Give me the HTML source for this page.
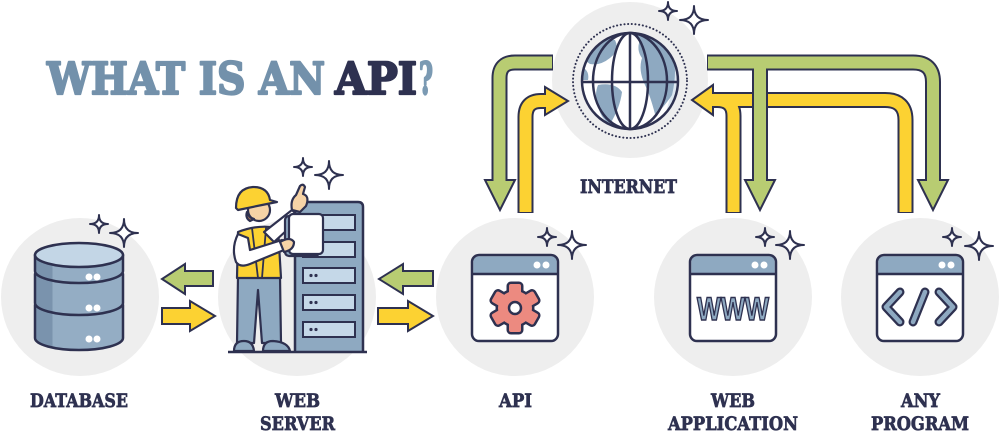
<!DOCTYPE html>
<html><head><meta charset="utf-8"><style>
html,body{margin:0;padding:0;background:#fff;}
svg{display:block;}
.lbl{font-family:"DejaVu Serif","Liberation Serif",serif;font-weight:bold;font-size:19px;fill:#2e3150;stroke:#2e3150;stroke-width:0.7px;}
</style></head><body>
<svg width="1000" height="432" viewBox="0 0 1000 432" xmlns="http://www.w3.org/2000/svg">
<defs>
<linearGradient id="dbg" x1="0" x2="1" y1="0" y2="0">
<stop offset="0" stop-color="#7a93ad"/><stop offset="0.2" stop-color="#7a93ad"/>
<stop offset="0.2" stop-color="#94adc4"/><stop offset="1" stop-color="#94adc4"/>
</linearGradient>
<clipPath id="gc"><circle cx="630" cy="81" r="48"/></clipPath>
</defs>

<!-- background circles -->
<g fill="#eeeeee">
<circle cx="80" cy="297" r="79"/>
<circle cx="297" cy="297" r="79"/>
<circle cx="515" cy="297" r="79"/>
<circle cx="733" cy="297" r="79"/>
<circle cx="920" cy="297" r="79"/>
<circle cx="630" cy="80" r="78"/>
</g>

<!-- title -->
<g font-family="'DejaVu Serif','Liberation Serif',serif" font-weight="bold" font-size="44" stroke-width="2.2" stroke-linejoin="round">
<text x="47" y="94" fill="#7391ab" stroke="#7391ab" textLength="278" lengthAdjust="spacingAndGlyphs">WHAT IS AN</text>
<text x="335" y="94" fill="#2e3150" stroke="#2e3150" textLength="82" lengthAdjust="spacingAndGlyphs">API</text>
<text x="419" y="94" fill="#7b9ab3" stroke="#7b9ab3" textLength="14" lengthAdjust="spacingAndGlyphs">?</text>
</g>

<!-- globe -->
<circle cx="630" cy="81" r="57" fill="none" stroke="#2e3150" stroke-width="2" stroke-dasharray="0.1 3.6" stroke-linecap="round"/>
<circle cx="630" cy="81" r="48" fill="#fff"/>
<g clip-path="url(#gc)">
<path d="M662,40 Q685,60 680,100 Q672,118 660,125 Q676,95 670,60Z" fill="#dde7f0"/>
<path d="M585,45 Q600,36 615,40 Q620,50 610,58 Q600,66 590,64 Q580,58 585,45Z" fill="#8ea9c1"/>
<path d="M580,66 Q590,70 588,80 L578,80Z" fill="#8ea9c1"/>
<path d="M598,85 Q615,82 622,92 Q620,108 610,124 Q600,118 598,105 Q594,95 598,85Z" fill="#8ea9c1"/>
<path d="M640,40 Q660,34 672,50 Q678,70 672,95 Q662,110 655,114 Q650,95 645,85 Q638,70 642,58 Q636,50 640,40Z" fill="#8ea9c1"/>
<path d="M635,34 Q648,30 655,36 L640,42Z" fill="#8ea9c1"/>
</g>
<g fill="none" stroke="#2e3150" stroke-width="2.5">
<circle cx="630" cy="81" r="48"/>
<ellipse cx="630" cy="81" rx="37" ry="48"/>
<ellipse cx="630" cy="81" rx="18" ry="48"/>
<line x1="630" y1="33" x2="630" y2="129"/>
<line x1="582" y1="82" x2="678" y2="82"/>
</g>
<text class="lbl" x="580" y="193" textLength="97" lengthAdjust="spacingAndGlyphs">INTERNET</text>

<!-- big connector arrows: yellow first -->
<g fill="none" stroke-linecap="butt" stroke-linejoin="round">
<path d="M525.5,213 V117 Q525.5,101 541,101 H547" stroke="#2e3150" stroke-width="16"/>
<path d="M905.5,213 V120 Q905.5,100 885,100 H711" stroke="#2e3150" stroke-width="16"/>
<path d="M733.5,213 V116 Q733.5,100 717,100 H711" stroke="#2e3150" stroke-width="16"/>
</g>
<g fill="#fcd232" stroke="#2e3150" stroke-width="2" stroke-linejoin="miter">
<polygon points="545,87 568,101 545,115"/>
<polygon points="713,85 692,100 713,115"/>
</g>
<g fill="none" stroke="#fcd232" stroke-width="12" stroke-linecap="butt">
<path d="M525.5,212 V117 Q525.5,101 541,101 H546.5"/>
<path d="M905.5,212 V120 Q905.5,100 885,100 H712"/>
<path d="M733.5,212 V116 Q733.5,100 717,100 H712"/>
</g>
<!-- green -->
<g fill="none" stroke="#2e3150" stroke-width="16" stroke-linecap="butt">
<path d="M553,62.5 H515 Q499.5,62.5 499.5,78 V182"/>
<path d="M707,62.5 H913 Q933,62.5 933,82 V182"/>
<path d="M760,62.5 V182"/>
</g>
<g fill="#b8cc72" stroke="#2e3150" stroke-width="2">
<polygon points="485,180 515,180 500,210"/>
<polygon points="918,180 948,180 933,210"/>
<polygon points="745,180 775,180 760,210"/>
</g>
<g fill="none" stroke="#b8cc72" stroke-width="12" stroke-linecap="butt">
<path d="M552,62.5 H515 Q499.5,62.5 499.5,78 V181.5"/>
<path d="M708,62.5 H913 Q933,62.5 933,82 V181.5"/>
<path d="M760,62.5 V181.5"/>
</g>

<!-- small horizontal arrows -->
<g stroke="#2e3150" stroke-width="2" stroke-linejoin="miter">
<polygon fill="#b8cc72" points="213,271 185,271 185,264 162,279 185,294 185,286 213,286"/>
<polygon fill="#fcd232" points="162,308 190,308 190,301 215,316 190,331 190,324 162,324"/>
<polygon fill="#b8cc72" points="433,271 403,271 403,264 379,279 403,294 403,286 433,286"/>
<polygon fill="#fcd232" points="378,308 408,308 408,301 433,316 408,331 408,324 378,324"/>
</g>

<!-- sparkles -->
<g fill="#fff" stroke="#2e3150" stroke-width="2" stroke-linejoin="round">
<path d="M99,215 Q99,224 108,224 Q99,224 99,233 Q99,224 90,224 Q99,224 99,215Z"/>
<path d="M124,219 Q124,233 138,233 Q124,233 124,247 Q124,233 110,233 Q124,233 124,219Z"/>
<path d="M303,158 Q303,167 312,167 Q303,167 303,176 Q303,167 294,167 Q303,167 303,158Z"/>
<path d="M329,161 Q329,175 343,175 Q329,175 329,189 Q329,175 315,175 Q329,175 329,161Z"/>
<path d="M547,228 Q547,237 556,237 Q547,237 547,246 Q547,237 538,237 Q547,237 547,228Z"/>
<path d="M572,231 Q572,245 586,245 Q572,245 572,259 Q572,245 558,245 Q572,245 572,231Z"/>
<path d="M765,228 Q765,237 774,237 Q765,237 765,246 Q765,237 756,237 Q765,237 765,228Z"/>
<path d="M790,231 Q790,245 804,245 Q790,245 790,259 Q790,245 776,245 Q790,245 790,231Z"/>
<path d="M952,228 Q952,237 961,237 Q952,237 952,246 Q952,237 943,237 Q952,237 952,228Z"/>
<path d="M979,232 Q979,246 993,246 Q979,246 979,260 Q979,246 965,246 Q979,246 979,232Z"/>
<path d="M668,2 Q668,11 677,11 Q668,11 668,20 Q668,11 659,11 Q668,11 668,2Z"/>
<path d="M694,6 Q694,20 708,20 Q694,20 694,34 Q694,20 680,20 Q694,20 694,6Z"/>
</g>

<!-- database -->
<g stroke="#2e3150" stroke-width="2.5" stroke-linejoin="round">
<path d="M35,305 V338 A44,12 0 0 0 123,338 V305 Z" fill="url(#dbg)"/>
<path d="M35,274 V303 A44,12 0 0 0 123,303 V274 Z" fill="url(#dbg)"/>
<path d="M35,255 V271 A44,12 0 0 0 123,271 V255 Z" fill="url(#dbg)"/>
<ellipse cx="79" cy="255" rx="44" ry="12" fill="#c3d6e6"/>
</g>
<g fill="#fff">
<circle cx="89" cy="277" r="3.5"/><circle cx="97" cy="277" r="3.5"/>
<circle cx="89" cy="308" r="3.5"/><circle cx="97" cy="308" r="3.5"/>
<circle cx="89" cy="339" r="3.5"/><circle cx="97" cy="339" r="3.5"/>
</g>

<!-- web server rack -->
<g stroke="#2e3150" stroke-width="2.5">
<path d="M295,352 V207 Q295,202 300,202 H358 Q363,202 363,207 V352" fill="#8ea9c1"/>
<g fill="#c5d8e8" stroke-width="2">
<rect x="303" y="215" width="52" height="15"/>
<rect x="303" y="242" width="52" height="15"/>
<rect x="303" y="268" width="52" height="15"/>
<rect x="303" y="295" width="52" height="15"/>
<rect x="303" y="322" width="52" height="15"/>
</g>
</g>
<g fill="#2e3150">
<circle cx="311" cy="275.5" r="1.6"/><circle cx="316" cy="275.5" r="1.6"/>
<circle cx="311" cy="302.5" r="1.6"/><circle cx="316" cy="302.5" r="1.6"/>
<circle cx="311" cy="329.5" r="1.6"/><circle cx="316" cy="329.5" r="1.6"/>
</g>
<line x1="228" y1="352" x2="367" y2="352" stroke="#2e3150" stroke-width="2.5"/>

<!-- worker -->
<g stroke="#2e3150" stroke-width="2.2" stroke-linejoin="round" stroke-linecap="round">
<path d="M238,276 L237,343 L254,343 L258,290 L262,343 L281,343 L280,276Z" fill="#8ea9c1"/>
<path d="M234,351 Q234,341 244,341 Q253,341 254,351Z" fill="#8ea9c1"/>
<path d="M263,351 Q263,341 273,341 Q288,342 290,351Z" fill="#8ea9c1"/>
<path d="M238,232 Q258,224 278,228 L281,278 L237,278Z" fill="#fcd232"/>
<path d="M252,228 L258,278 M266,228 L262,278" fill="none" stroke-width="1.8"/>
<path d="M264,232 L292,210 L300,218 L274,242Z" fill="#fff"/>
<path d="M292,210 Q290,200 296,195 L300,186 Q303,183 305,187 L303,194 Q310,196 306,206 L300,212Z" fill="#f6d3a6"/>
<path d="M238,234 Q231,248 236,262 Q240,268 250,264 L284,250 L282,240 L250,250 L248,238Z" fill="#fff"/>
<circle cx="259" cy="210" r="11" fill="#f6d3a6"/>
<path d="M247,212 Q249,218 254,219 L250,221 Q245,218 247,212Z" fill="#a0725a"/>
<path d="M236,208 Q236,188 253,187 Q268,187 270,200 L277,202 L262,205 L238,210Z" fill="#fcd232"/>
<rect x="285" y="216" width="34" height="40" rx="4" fill="#8ea9c1"/>
<rect x="289" y="214" width="34" height="40" rx="4" fill="#fff"/>
<path d="M280,242 Q290,236 294,242 Q294,250 284,252Z" fill="#f6d3a6"/>
</g>

<!-- windows -->
<g>
<rect x="472" y="255" width="86" height="86" rx="7" fill="#fff"/>
<path d="M473.25,274 V262 Q473.25,256.25 479,256.25 H551 Q556.75,256.25 556.75,262 V274Z" fill="#8ea9c1"/>
<line x1="472" y1="274" x2="558" y2="274" stroke="#2e3150" stroke-width="2.5"/>
<rect x="472" y="255" width="86" height="86" rx="7" fill="none" stroke="#2e3150" stroke-width="2.5"/>
<circle cx="537" cy="265" r="3.5" fill="#fff"/><circle cx="546" cy="265" r="3.5" fill="#fff"/>

<rect x="690" y="255" width="86" height="86" rx="7" fill="#fff"/>
<path d="M691.25,274 V262 Q691.25,256.25 697,256.25 H769 Q774.75,256.25 774.75,262 V274Z" fill="#8ea9c1"/>
<line x1="690" y1="274" x2="776" y2="274" stroke="#2e3150" stroke-width="2.5"/>
<rect x="690" y="255" width="86" height="86" rx="7" fill="none" stroke="#2e3150" stroke-width="2.5"/>
<circle cx="755" cy="265" r="3.5" fill="#fff"/><circle cx="764" cy="265" r="3.5" fill="#fff"/>

<rect x="877" y="255" width="86" height="86" rx="7" fill="#fff"/>
<path d="M878.25,274 V262 Q878.25,256.25 884,256.25 H956 Q961.75,256.25 961.75,262 V274Z" fill="#8ea9c1"/>
<line x1="877" y1="274" x2="963" y2="274" stroke="#2e3150" stroke-width="2.5"/>
<rect x="877" y="255" width="86" height="86" rx="7" fill="none" stroke="#2e3150" stroke-width="2.5"/>
<circle cx="942" cy="265" r="3.5" fill="#fff"/><circle cx="951" cy="265" r="3.5" fill="#fff"/>
</g>

<!-- gear -->
<g transform="translate(515,308)">
<g fill="#2e3150" stroke="#2e3150" stroke-width="5" stroke-linejoin="round">
<circle r="17"/>
<rect x="-6" y="-24" width="12" height="12" rx="2"/>
<rect x="-6" y="-24" width="12" height="12" rx="2" transform="rotate(60)"/>
<rect x="-6" y="-24" width="12" height="12" rx="2" transform="rotate(120)"/>
<rect x="-6" y="-24" width="12" height="12" rx="2" transform="rotate(180)"/>
<rect x="-6" y="-24" width="12" height="12" rx="2" transform="rotate(240)"/>
<rect x="-6" y="-24" width="12" height="12" rx="2" transform="rotate(300)"/>
</g>
<g fill="#ec8a80">
<circle r="17"/>
<rect x="-6" y="-24" width="12" height="12" rx="2"/>
<rect x="-6" y="-24" width="12" height="12" rx="2" transform="rotate(60)"/>
<rect x="-6" y="-24" width="12" height="12" rx="2" transform="rotate(120)"/>
<rect x="-6" y="-24" width="12" height="12" rx="2" transform="rotate(180)"/>
<rect x="-6" y="-24" width="12" height="12" rx="2" transform="rotate(240)"/>
<rect x="-6" y="-24" width="12" height="12" rx="2" transform="rotate(300)"/>
</g>
<circle r="6" fill="#fff" stroke="#2e3150" stroke-width="2.5"/>
</g>

<!-- WWW -->
<text x="733" y="320" text-anchor="middle" font-family="'Liberation Sans',sans-serif" font-weight="bold" font-size="32" fill="#8ea9c1" stroke="#2e3150" stroke-width="1.6" textLength="72" lengthAdjust="spacingAndGlyphs">WWW</text>

<!-- code icon -->
<g fill="none" stroke-linecap="round" stroke-linejoin="round">
<g stroke="#2e3150" stroke-width="9">
<path d="M900,292 L886,307 L900,322"/>
<path d="M925,292 L913,322"/>
<path d="M939,292 L953,307 L939,322"/>
</g>
<g stroke="#8ea9c1" stroke-width="4.5">
<path d="M900,292 L886,307 L900,322"/>
<path d="M925,292 L913,322"/>
<path d="M939,292 L953,307 L939,322"/>
</g>
</g>

<!-- labels -->
<text class="lbl" x="30" y="407" textLength="98" lengthAdjust="spacingAndGlyphs">DATABASE</text>
<text class="lbl" x="275" y="407" textLength="45" lengthAdjust="spacingAndGlyphs">WEB</text>
<text class="lbl" x="260" y="430" textLength="75" lengthAdjust="spacingAndGlyphs">SERVER</text>
<text class="lbl" x="499" y="407" textLength="33" lengthAdjust="spacingAndGlyphs">API</text>
<text class="lbl" x="711" y="407" textLength="44" lengthAdjust="spacingAndGlyphs">WEB</text>
<text class="lbl" x="668" y="430" textLength="130" lengthAdjust="spacingAndGlyphs">APPLICATION</text>
<text class="lbl" x="901" y="407" textLength="39" lengthAdjust="spacingAndGlyphs">ANY</text>
<text class="lbl" x="871" y="430" textLength="98" lengthAdjust="spacingAndGlyphs">PROGRAM</text>
</svg>
</body></html>
